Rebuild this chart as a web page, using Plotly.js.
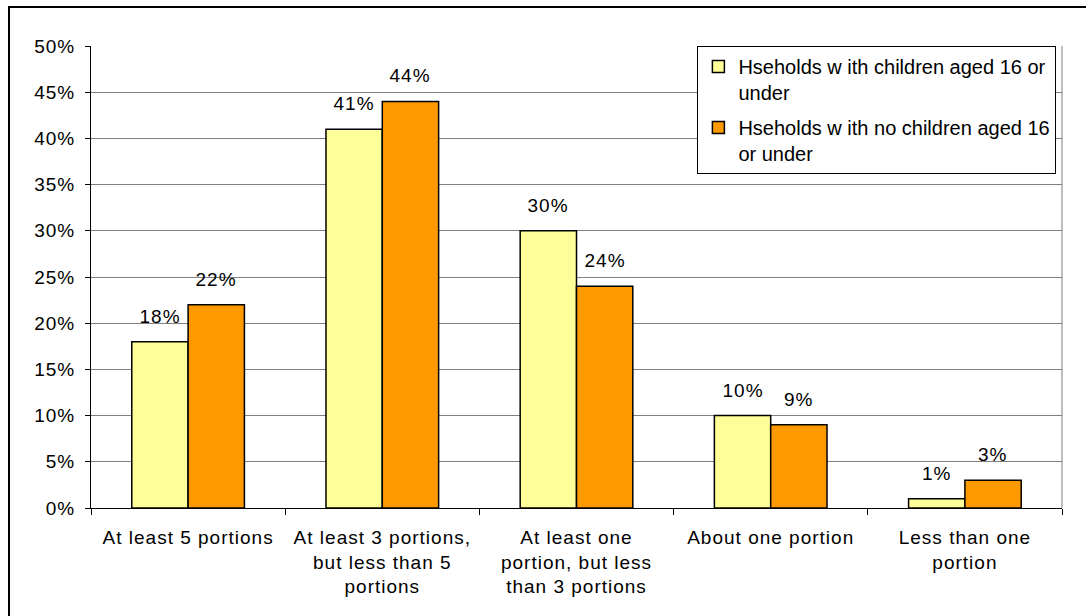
<!DOCTYPE html>
<html>
<head>
<meta charset="utf-8">
<script src="https://cdn.plot.ly/plotly-3.0.1.min.js"></script>
<style>
  html, body { margin:0; padding:0; background:#fff; overflow:hidden; }
  #chart { position:absolute; left:0; top:0; width:1086px; height:616px; }
  #chart .xtick text, #chart .ytick text, #chart .annotation text { letter-spacing: 1px; }
  #frame { position:absolute; left:8px; top:6px; width:1100px; height:640px; border:2px solid #000; pointer-events:none; }
</style>
</head>
<body>
<div id="chart"></div>
<div id="frame"></div>
<script>
const categories = [
  "At least 5 portions",
  "At least 3 portions,<br>but less than 5<br>portions",
  "At least one<br>portion, but less<br>than 3 portions",
  "About one portion",
  "Less than one<br>portion"
];
const seriesNames = [
  "Hseholds w ith children aged 16 or<br>under",
  "Hseholds w ith no children aged 16<br>or under"
];
const withChildren = [18, 41, 30, 10, 1];
const noChildren = [22, 44, 24, 9, 3];
const yTickVals = [0, 5, 10, 15, 20, 25, 30, 35, 40, 45, 50];
const yTickText = yTickVals.map(v => v + "%");

const colors = ["#FFFF99", "#FF9900"];
const bargap = 0.42;
const off = (1 - bargap) / 4;
const FS = 19;

const traces = [withChildren, noChildren].map((vals, k) => ({
  type: "bar",
  name: seriesNames[k],
  legendgroup: "g" + k,
  x: categories,
  y: vals,
  marker: { color: colors[k], line: { color: "#000", width: 1.5 } },
  hoverinfo: "none"
}));

const annotations = [];
[withChildren, noChildren].forEach((vals, k) => {
  vals.forEach((v, i) => {
    annotations.push({
      x: i + (k === 0 ? -off : off),
      y: v,
      xref: "x", yref: "y",
      text: v + "%",
      showarrow: false,
      yanchor: "bottom",
      yshift: 13,
      font: { size: FS, color: "#000" }
    });
  });
});

const layout = {
  width: 1086, height: 616,
  margin: { l: 91, r: 24, t: 46, b: 108 },
  paper_bgcolor: "#fff",
  plot_bgcolor: "#fff",
  font: { family: "Liberation Sans, Arial, sans-serif", size: FS, color: "#000" },
  barmode: "group",
  bargap: bargap,
  bargroupgap: 0,
  showlegend: true,
  legend: {
    x: 0.6245, y: 1, xanchor: "left", yanchor: "top",
    bgcolor: "#fff", bordercolor: "#000", borderwidth: 1,
    font: { size: 20, color: "#000" },
    valign: "top",
    tracegroupgap: 6,
    traceorder: "grouped"
  },
  xaxis: {
    type: "category",
    tickson: "boundaries",
    showgrid: false,
    zeroline: false,
    showline: true, linecolor: "#000", linewidth: 1,
    ticks: "outside", ticklen: 6, tickcolor: "#000",
    ticklabelstandoff: 12,
    fixedrange: true
  },
  yaxis: {
    range: [0, 50],
    tickvals: yTickVals,
    ticktext: yTickText,
    showgrid: true, gridcolor: "#808080", gridwidth: 1,
    zeroline: false,
    showline: true, linecolor: "#000", linewidth: 1,
    ticks: "outside", ticklen: 5, tickcolor: "#000",
    ticklabelstandoff: 6,
    fixedrange: true
  },
  shapes: [
    { type: "line", xref: "paper", yref: "paper", x0: 1, x1: 1, y0: 0, y1: 1, line: { color: "#808080", width: 1 } }
  ],
  annotations: annotations
};

Plotly.newPlot("chart", traces, layout, { displayModeBar: false, staticPlot: true });
</script>
</body>
</html>
